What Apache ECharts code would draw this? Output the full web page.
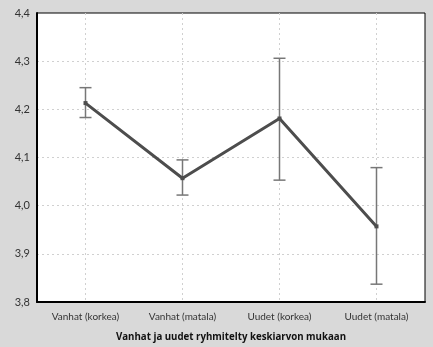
<!DOCTYPE html>
<html><head><meta charset="utf-8">
<script src="https://cdn.jsdelivr.net/npm/echarts@6/dist/echarts.min.js"></script>
<style>html,body{margin:0;padding:0;background:#d9d9d9;}#c{width:433px;height:347px;}</style>
</head><body><div id="c"></div>
<script>
const categories = ['Vanhat (korkea)', 'Vanhat (matala)', 'Uudet (korkea)', 'Uudet (matala)'];
const means = [4.213, 4.057, 4.181, 3.957];
const upper = [4.245, 4.095, 4.306, 4.079];
const lower = [4.183, 4.022, 4.053, 3.837];
const xTitle = 'Vanhat ja uudet ryhmitelty keskiarvon mukaan';
const yMin = 3.8, yMax = 4.4, yStep = 0.1;

const errData = categories.map((c, i) => [i, lower[i], upper[i]]);
const chart = echarts.init(document.getElementById('c'));
chart.setOption({
  backgroundColor: '#d9d9d9',
  animation: false,
  textStyle: { fontFamily: 'Lato' },
  grid: { left: 37, right: 8, top: 13, bottom: 44, show: true, backgroundColor: '#fff', borderColor: '#000', borderWidth: 1 },
  xAxis: {
    type: 'category', data: categories, boundaryGap: true,
    name: xTitle, nameLocation: 'middle', nameGap: 30,
    nameTextStyle: { fontWeight: 'bold', fontSize: 9.7, color: '#111', fontFamily: 'Open Sans' },
    axisLine: { lineStyle: { color: '#000', width: 2 } },
    axisTick: { show: false },
    axisLabel: { fontSize: 10, color: '#333', margin: 10 },
    splitLine: { show: true, alignWithLabel: true, lineStyle: { color: '#d0d0d0', type: [2, 3] } }
  },
  yAxis: {
    type: 'value', min: yMin, max: yMax, interval: yStep,
    axisLine: { show: true, lineStyle: { color: '#000', width: 2 } },
    axisTick: { show: false },
    axisLabel: { fontSize: 11, color: '#333', margin: 7, formatter: v => v.toFixed(1).replace('.', ',') },
    splitLine: { show: true, showMaxLine: false, showMinLine: false, lineStyle: { color: '#d0d0d0', type: [2, 3] } }
  },
  series: [
    {
      type: 'custom', z: 2,
      data: errData,
      renderItem: function (params, api) {
        const x = api.value(0);
        const lo = api.coord([x, api.value(1)]);
        const hi = api.coord([x, api.value(2)]);
        const hw = 6;
        const style = { stroke: '#777', lineWidth: 1.5 };
        return { type: 'group', children: [
          { type: 'line', shape: { x1: lo[0], y1: lo[1], x2: hi[0], y2: hi[1] }, style },
          { type: 'line', shape: { x1: lo[0] - hw, y1: lo[1], x2: lo[0] + hw, y2: lo[1] }, style },
          { type: 'line', shape: { x1: hi[0] - hw, y1: hi[1], x2: hi[0] + hw, y2: hi[1] }, style }
        ] };
      }
    },
    {
      type: 'line', z: 3, data: means, symbol: 'rect', symbolSize: 4,
      lineStyle: { color: '#4d4d4d', width: 3 }, itemStyle: { color: '#4d4d4d' }
    }
  ]
});
</script></body></html>
